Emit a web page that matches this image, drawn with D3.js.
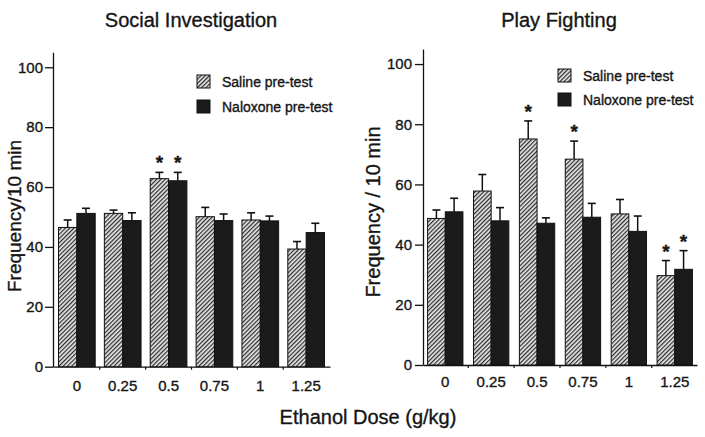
<!DOCTYPE html>
<html>
<head>
<meta charset="utf-8">
<script src="https://cdn.jsdelivr.net/npm/d3@7"></script>
<style>
  html, body { margin: 0; padding: 0; background: #fff; }
  svg { display: block; }
  text { font-family: "Liberation Sans", Arial, Helvetica, sans-serif; fill: #151515; stroke: #151515; stroke-width: 0.35px; }
</style>
</head>
<body>
<svg id="chart" width="705" height="437"></svg>
<script>
// ---- data ----
const doses = ["0", "0.25", "0.5", "0.75", "1", "1.25"];
const seriesNames = ["Saline pre-test", "Naloxone pre-test"];
const yTicks = [0, 20, 40, 60, 80, 100];

const socialSaline      = [46.5, 51.2, 62.8, 50.1, 49.0, 39.3];
const socialSalineErr   = [2.5, 1.1, 2.1, 3.1, 2.4, 2.5];
const socialNaloxone    = [51.2, 48.8, 62.1, 48.8, 48.7, 44.8];
const socialNaloxoneErr = [1.7, 2.6, 2.8, 2.2, 1.6, 3.1];
const socialSalineSig   = [0, 0, 1, 0, 0, 0];
const socialNaloxoneSig = [0, 0, 1, 0, 0, 0];

const playSaline        = [48.7, 57.8, 75.1, 68.4, 50.2, 29.7];
const playSalineErr     = [2.8, 5.5, 6.0, 6.0, 4.8, 5.0];
const playNaloxone      = [50.9, 47.9, 47.1, 49.1, 44.4, 31.8];
const playNaloxoneErr   = [4.5, 4.4, 1.8, 4.6, 5.1, 6.2];
const playSalineSig     = [0, 0, 1, 1, 0, 1];
const playNaloxoneSig   = [0, 0, 0, 0, 0, 1];

// ---- drawing ----
const svg = d3.select("#chart");
const defs = svg.append("defs");
const pat = defs.append("pattern")
  .attr("id", "hatch")
  .attr("patternUnits", "userSpaceOnUse")
  .attr("width", 3).attr("height", 3)
  .attr("patternTransform", "rotate(45)");
pat.append("rect").attr("width", 3).attr("height", 3).attr("fill", "#e6e6e6");
pat.append("line").attr("x1", 0.6).attr("y1", 0).attr("x2", 0.6).attr("y2", 3)
  .attr("stroke", "#2a2a2a").attr("stroke-width", 1.2);

const fills = ["url(#hatch)", "#1b1b1b"];

function panel(cfg) {
  const g = svg.append("g");
  const x = d3.scaleBand().domain(doses).range(cfg.xRange)
    .paddingInner(cfg.padIn).paddingOuter(cfg.padOut);
  const xs = d3.scaleBand().domain([0, 1]).range([0, x.bandwidth()]);
  const y = d3.scaleLinear().domain([0, 105]).range(cfg.yRange);

  // y axis
  const ya = g.append("g").attr("transform", `translate(${cfg.xRange[0]},0)`)
    .call(d3.axisLeft(y).tickValues(yTicks).tickSize(8).tickSizeOuter(0).tickPadding(cfg.yPad));
  ya.selectAll("path").attr("stroke", "#111").attr("stroke-width", 1.3);
  ya.selectAll("line").attr("stroke", "#111").attr("stroke-width", 1.3);
  ya.selectAll("text").style("font-size", "15px").style("font-family", "Liberation Sans, Arial, sans-serif").attr("fill", "#151515");

  // x axis
  const xa = g.append("g").attr("transform", `translate(0,${y(0)})`)
    .call(d3.axisBottom(x).tickSize(0).tickSizeOuter(0).tickPadding(cfg.xPad));
  xa.selectAll("path").attr("stroke", "#111").attr("stroke-width", 1.3);
  xa.selectAll("text").style("font-size", "15px").style("font-family", "Liberation Sans, Arial, sans-serif").attr("fill", "#151515");
  // small boundary ticks between groups
  const step = x.step();
  g.selectAll("line.bt").data(doses.slice(1)).join("line")
    .attr("x1", d => x(d) - (step - x.bandwidth()) / 2)
    .attr("x2", d => x(d) - (step - x.bandwidth()) / 2)
    .attr("y1", y(0)).attr("y2", y(0) + 3)
    .attr("stroke", "#111").attr("stroke-width", 1.2);

  const series = [cfg.s0, cfg.s1];
  const errs = [cfg.e0, cfg.e1];
  const sigs = [cfg.g0, cfg.g1];
  series.forEach((vals, si) => {
    const gs = g.append("g");
    const rows = doses.map((d, i) => ({d, v: vals[i], e: errs[si][i], s: sigs[si][i]}));
    // error bars
    gs.selectAll("line.eb").data(rows).join("line")
      .attr("x1", r => x(r.d) + xs(si) + xs.bandwidth() / 2)
      .attr("x2", r => x(r.d) + xs(si) + xs.bandwidth() / 2)
      .attr("y1", r => y(r.v)).attr("y2", r => y(r.v + r.e))
      .attr("stroke", "#111").attr("stroke-width", 1.5);
    gs.selectAll("line.cap").data(rows).join("line")
      .attr("x1", r => x(r.d) + xs(si) + xs.bandwidth() / 2 - 4)
      .attr("x2", r => x(r.d) + xs(si) + xs.bandwidth() / 2 + 4)
      .attr("y1", r => y(r.v + r.e)).attr("y2", r => y(r.v + r.e))
      .attr("stroke", "#111").attr("stroke-width", 1.6);
    gs.selectAll("rect").data(rows).join("rect")
      .attr("x", r => x(r.d) + xs(si))
      .attr("width", xs.bandwidth())
      .attr("y", r => y(r.v))
      .attr("height", r => y(0) - y(r.v))
      .attr("fill", fills[si])
      .attr("stroke", "#111").attr("stroke-width", 1);
    gs.selectAll("text.ast").data(rows.filter(r => r.s)).join("text")
      .attr("x", r => x(r.d) + xs(si) + xs.bandwidth() / 2)
      .attr("y", r => y(r.v + r.e) - 3)
      .attr("text-anchor", "middle")
      .style("font-size", "19px").style("font-weight", "bold")
      .text("*");
  });

  // legend
  seriesNames.forEach((name, i) => {
    const ly = cfg.legY + i * cfg.legGap;
    g.append("rect").attr("x", cfg.legX).attr("y", ly).attr("width", 13).attr("height", 13)
      .attr("fill", fills[i]).attr("stroke", "#111").attr("stroke-width", 1);
    g.append("text").attr("x", cfg.legX + 25).attr("y", ly + 11.5)
      .style("font-size", "14px").text(name);
  });

  // title
  g.append("text").attr("x", cfg.titleX).attr("y", 27).attr("text-anchor", "middle")
    .style("font-size", "20px").text(cfg.title);
  // y label
  g.append("text").attr("transform", `translate(${cfg.ylabX},${cfg.ylabY}) rotate(-90)`)
    .attr("text-anchor", "middle").style("font-size", cfg.ylabSize + "px").text(cfg.ylab);
}

panel({
  xRange: [53, 330], yRange: [366.7, 52.3], padIn: 0.2, padOut: 0.12, yPad: 2, xPad: 14,
  s0: socialSaline, s1: socialNaloxone, e0: socialSalineErr, e1: socialNaloxoneErr,
  g0: socialSalineSig, g1: socialNaloxoneSig,
  legX: 197, legY: 75, legGap: 25,
  title: "Social Investigation", titleX: 191,
  ylab: "Frequency/10 min", ylabX: 21, ylabY: 216, ylabSize: 19
});
panel({
  xRange: [423, 697], yRange: [365, 49], padIn: 0.23, padOut: 0.1, yPad: 3, xPad: 11,
  s0: playSaline, s1: playNaloxone, e0: playSalineErr, e1: playNaloxoneErr,
  g0: playSalineSig, g1: playNaloxoneSig,
  legX: 558, legY: 69, legGap: 24,
  title: "Play Fighting", titleX: 559,
  ylab: "Frequency / 10 min", ylabX: 380, ylabY: 212, ylabSize: 20
});

// shared x-axis label
svg.append("text").attr("x", 368).attr("y", 424).attr("text-anchor", "middle")
  .style("font-size", "20px").text("Ethanol Dose (g/kg)");
</script>
</body>
</html>
